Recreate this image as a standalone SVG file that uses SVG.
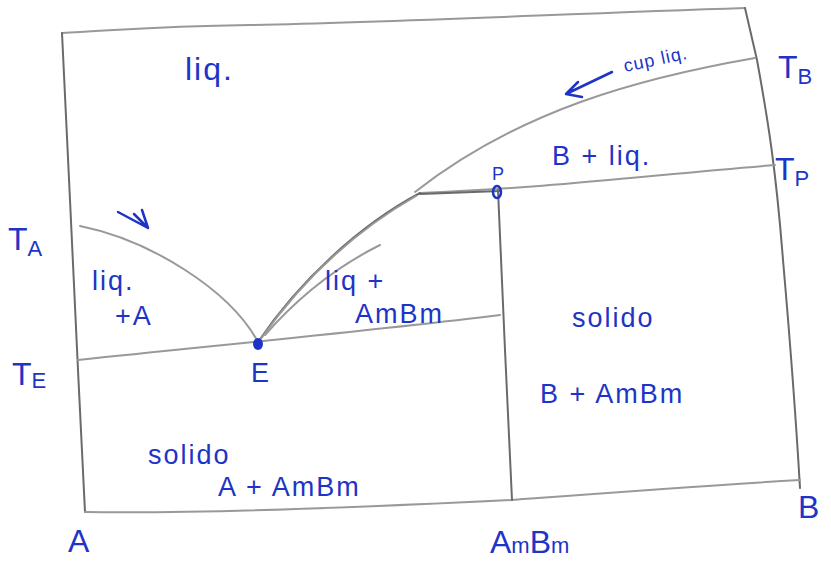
<svg xmlns="http://www.w3.org/2000/svg" width="831" height="565" viewBox="0 0 831 565">
<defs>
<style>
.ln{fill:none;stroke:#999;stroke-width:2;stroke-linecap:round;stroke-linejoin:round}
.dk{fill:none;stroke:#6a6a6a;stroke-width:2;stroke-linecap:round}
.t{font-family:"Liberation Sans",Arial,sans-serif;fill:#1d34c6}
.big{font-size:32px}
.mid{font-size:27px;letter-spacing:2px}
.sm{font-size:18px}
.ar{fill:none;stroke:#1d34c6;stroke-width:2.5;stroke-linecap:round;stroke-linejoin:round}
</style>
</defs>
<rect width="831" height="565" fill="#fff"/>
<g id="connectors">
<path id="frame-top" class="ln" d="M62,33 C120,30 160,26 250,25 C400,22 560,14 745,8"/>
<path id="frame-left" class="dk" d="M62,33 L70,200 L78,370 L85,512"/>
<path id="frame-right" class="dk" d="M745,8 L757,60 C768,120 776,170 783,260 C790,340 796,420 800,488"/>
<path id="frame-bottom" class="ln" d="M85,512 C200,514 350,508 512,500 C620,492 700,486 800,480"/>
<path id="liquidus-B" class="ln" d="M755,58 C640,78 520,110 415,192"/>
<path id="peritectic" class="ln" d="M420,193 C550,188 650,175 775,165"/>
<path id="peritectic-dark" class="dk" d="M420,194 L500,191"/>
<path id="ambm-vertical" class="dk" d="M498,190 L505,350 L512,500"/>
<path id="eutectic" class="ln" d="M78,360 C220,345 380,330 500,315"/>
<path id="liquidus-A" class="ln" d="M80,226 C150,240 230,290 258,342"/>
<path id="liquidus-ambm" class="dk" d="M258,342 C300,280 360,225 420,193"/>
<path id="liquidus-ambm2" class="ln" d="M260,340 C305,276 360,228 416,196"/>
<path id="liquidus-ambm3" class="ln" d="M265,335 C300,295 340,265 380,245"/>
<path id="arrow-TA" class="ar" d="M118,212 L148,228 M134,214 L148,228 L142,210"/>
<path id="arrow-cap" class="ar" d="M612,72 L566,94 M578,82 L566,94 L582,97"/>
</g>
<g id="point-E"><ellipse cx="258" cy="344" rx="5" ry="6" fill="#1d34c6"/><text class="t mid" x="251" y="382">E</text></g>
<g id="point-P"><ellipse cx="497" cy="192" rx="4" ry="6" fill="none" stroke="#1d34c6" stroke-width="2.5"/><text class="t sm" x="492" y="180">P</text></g>
<g id="label-liq"><text class="t big" x="185" y="80" letter-spacing="2">liq.</text></g>
<g id="label-cap"><text class="t sm" x="625" y="72" transform="rotate(-12 625 72)" letter-spacing="1">cup liq.</text></g>
<g id="label-TB"><text class="t big" x="778" y="78">T<tspan font-size="22" dy="6">B</tspan></text></g>
<g id="label-Bliq"><text class="t mid" x="552" y="165">B + liq.</text></g>
<g id="label-TP"><text class="t big" x="775" y="180">T<tspan font-size="22" dy="6">P</tspan></text></g>
<g id="label-TA"><text class="t big" x="8" y="250">T<tspan font-size="22" dy="6">A</tspan></text></g>
<g id="label-liqA"><text class="t mid" x="92" y="290">liq.</text><text class="t mid" x="115" y="325">+A</text></g>
<g id="label-liqAmBm"><text class="t mid" x="325" y="290">liq +</text><text class="t mid" x="355" y="323">AmBm</text></g>
<g id="label-TE"><text class="t big" x="12" y="385">T<tspan font-size="22" dy="3">E</tspan></text></g>
<g id="label-solidoB"><text class="t mid" x="572" y="327">solido</text><text class="t mid" x="540" y="403">B  + AmBm</text></g>
<g id="label-solidoA"><text class="t mid" x="148" y="464">solido</text><text class="t mid" x="218" y="496">A + AmBm</text></g>
<g id="label-A"><text class="t big" x="68" y="552">A</text></g>
<g id="label-AmBm"><text class="t big" x="490" y="553">A<tspan font-size="22">m</tspan>B<tspan font-size="22">m</tspan></text></g>
<g id="label-B"><text class="t big" x="798" y="518">B</text></g>
</svg>
